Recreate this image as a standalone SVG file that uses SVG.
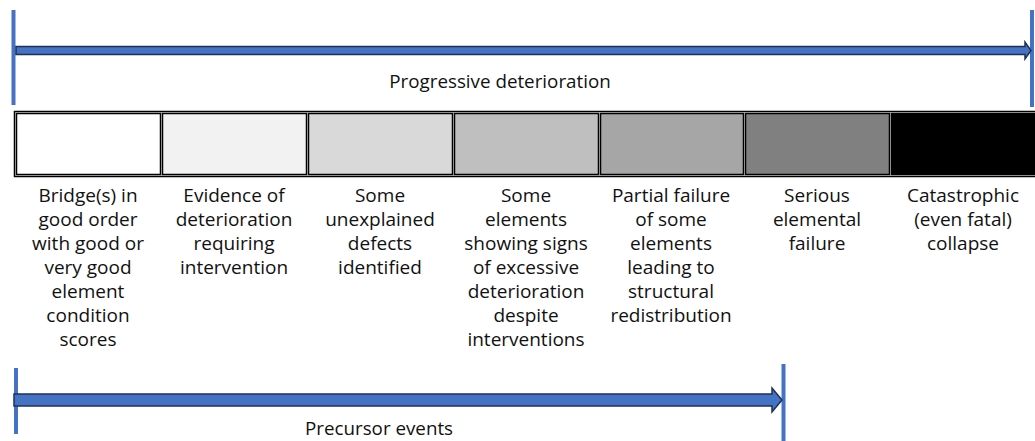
<svg xmlns="http://www.w3.org/2000/svg" width="1035" height="441" viewBox="0 0 1035 441">
<defs>
<style>
text{font-family:"Open Sans","Noto Sans","Liberation Sans",sans-serif;font-size:19px;fill:#111;text-anchor:middle}
.title{font-size:18.8px}
.tick{stroke:#4472c4;stroke-width:4}
.arrow{fill:#4472c4;stroke:#1f3050;stroke-width:1.5}
.box{stroke:#000;stroke-width:1.5}
</style>
</defs>
<g id="connectors">
<line class="tick" x1="13.5" y1="10" x2="13.5" y2="105"/>
<line class="tick" x1="1032" y1="10" x2="1032" y2="107"/>
<path class="arrow" d="M16,46.5 H1025 V42 L1031,50.5 L1025,59 V54.5 H16 Z"/>
<line class="tick" x1="16" y1="368" x2="16" y2="434"/>
<line class="tick" x1="783.5" y1="364" x2="783.5" y2="441"/>
<path class="arrow" d="M14,394 H772 V388 L782,400 L772,412 V406 H14 Z"/>
</g>
<g id="label-progressive"><text class="title" x="500" y="88">Progressive deterioration</text></g>
<g id="label-precursor"><text class="title" x="379" y="435">Precursor events</text></g>
<g id="frame"><rect x="14.5" y="111.5" width="1022" height="65" fill="none" stroke="#000" stroke-width="1.5"/></g>
<g id="n1"><rect class="box" x="16.5" y="113.5" width="144" height="61" fill="#ffffff"/>
<text x="88" y="202">Bridge(s) in</text><text x="88" y="226">good order</text><text x="88" y="250">with good or</text><text x="88" y="274">very good</text><text x="88" y="298">element</text><text x="88" y="322">condition</text><text x="88" y="346">scores</text></g>
<g id="n2"><rect class="box" x="162.5" y="113.5" width="144" height="61" fill="#f2f2f2"/>
<text x="234" y="202">Evidence of</text><text x="234" y="226">deterioration</text><text x="234" y="250">requiring</text><text x="234" y="274">intervention</text></g>
<g id="n3"><rect class="box" x="308.5" y="113.5" width="144" height="61" fill="#d9d9d9"/>
<text x="380" y="202">Some</text><text x="380" y="226">unexplained</text><text x="380" y="250">defects</text><text x="380" y="274">identified</text></g>
<g id="n4"><rect class="box" x="454.5" y="113.5" width="144" height="61" fill="#bfbfbf"/>
<text x="526" y="202">Some</text><text x="526" y="226">elements</text><text x="526" y="250">showing signs</text><text x="526" y="274">of excessive</text><text x="526" y="298">deterioration</text><text x="526" y="322">despite</text><text x="526" y="346">interventions</text></g>
<g id="n5"><rect class="box" x="600.5" y="113.5" width="143" height="61" fill="#a6a6a6"/>
<text x="671" y="202">Partial failure</text><text x="671" y="226">of some</text><text x="671" y="250">elements</text><text x="671" y="274">leading to</text><text x="671" y="298">structural</text><text x="671" y="322">redistribution</text></g>
<g id="n6"><rect class="box" x="745.5" y="113.5" width="144" height="61" fill="#808080"/>
<text x="817" y="202">Serious</text><text x="817" y="226">elemental</text><text x="817" y="250">failure</text></g>
<g id="n7"><rect class="box" x="891.5" y="113.5" width="145" height="61" fill="#000000"/>
<text x="963" y="202">Catastrophic</text><text x="963" y="226">(even fatal)</text><text x="963" y="250">collapse</text></g>
</svg>
